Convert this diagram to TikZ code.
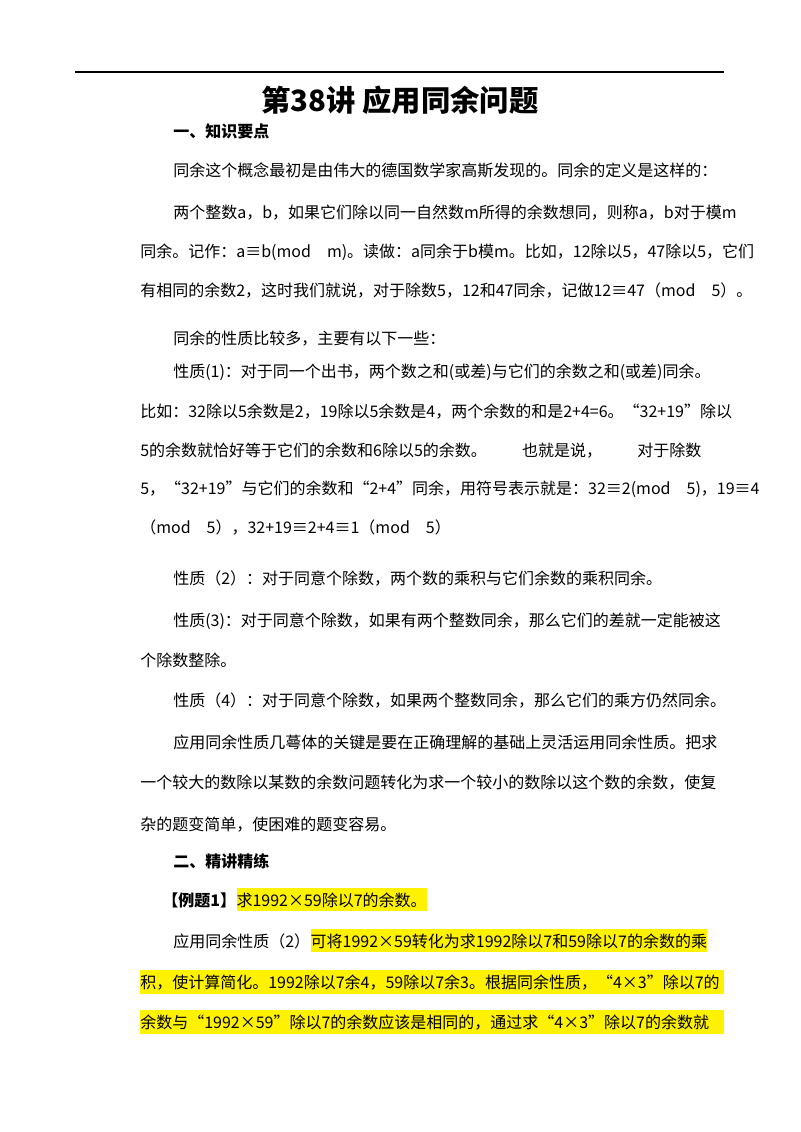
\documentclass[tikz,border=0pt]{standalone}
\usepackage{fontspec}
\setmainfont{Noto Sans CJK SC}
\begin{document}
\begin{tikzpicture}[x=0.75pt,y=-0.75pt,
  ln/.style={anchor=base west,inner sep=0pt,font=\fontsize{12pt}{14pt}\selectfont},
  hln/.style={ln,fill=yellow,inner ysep=3pt,inner xsep=0pt},
  hl/.style={fill=yellow,draw=none}]
\useasboundingbox (0,0) rectangle (800,1132);
\fill[white] (0,0) rectangle (800,1132);
\draw[line width=1pt] (75,72) -- (724,72);
\node[anchor=center,inner sep=0pt,font=\fontsize{22pt}{26pt}\selectfont\bfseries] (title) at (400,100) {第38讲 应用同余问题};
% highlights
\fill[hl] (140,970) rectangle (724,994);
\fill[hl] (140,1010) rectangle (724,1034);
\node[ln,font=\fontsize{12pt}{14pt}\selectfont\bfseries] (l1) at (173,137) {一、知识要点};
\node[ln] (l2) at (173,176) {同余这个概念最初是由伟大的德国数学家高斯发现的。同余的定义是这样的：};
\node[ln] (l3) at (173,218) {两个整数a，b，如果它们除以同一自然数m所得的余数想同，则称a，b对于模m};
\node[ln] (l4) at (140,257) {同余。记作：a≡b(mod　m)。读做：a同余于b模m。比如，12除以5，47除以5，它们};
\node[ln] (l5) at (140,296) {有相同的余数2，这时我们就说，对于除数5，12和47同余，记做12≡47（mod　5）。};
\node[ln] (l6) at (173,344) {同余的性质比较多，主要有以下一些：};
\node[ln] (l7) at (173,377) {性质(1)：对于同一个出书，两个数之和(或差)与它们的余数之和(或差)同余。};
\node[ln] (l8) at (140,417) {比如：32除以5余数是2，19除以5余数是4，两个余数的和是2+4=6。“32+19”除以};
\node[ln] (l9) at (140,456) {5的余数就恰好等于它们的余数和6除以5的余数。\hspace{2.2em}也就是说，\hspace{2.2em}对于除数};
\node[ln] (l10) at (140,494) {5，“32+19”与它们的余数和“2+4”同余，用符号表示就是：32≡2(mod　5)，19≡4};
\node[ln] (l11) at (140,533) {（mod　5），32+19≡2+4≡1（mod　5）};
\node[ln] (l12) at (173,584) {性质（2）：对于同意个除数，两个数的乘积与它们余数的乘积同余。};
\node[ln] (l13) at (173,626) {性质(3)：对于同意个除数，如果有两个整数同余，那么它们的差就一定能被这};
\node[ln] (l14) at (140,666) {个除数整除。};
\node[ln] (l15) at (173,706) {性质（4）：对于同意个除数，如果两个整数同余，那么它们的乘方仍然同余。};
\node[ln] (l16) at (173,748) {应用同余性质几蕚体的关键是要在正确理解的基础上灵活运用同余性质。把求};
\node[ln] (l17) at (140,788) {一个较大的数除以某数的余数问题转化为求一个较小的数除以这个数的余数，使复};
\node[ln] (l18) at (140,830) {杂的题变简单，使困难的题变容易。};
\node[ln,font=\fontsize{12pt}{14pt}\selectfont\bfseries] (l19) at (173,867) {二、精讲精练};
\node[ln,font=\fontsize{12pt}{14pt}\selectfont\bfseries] (l20) at (162,906) {【例题1】};
\node[hln] (l20b) at (l20.base east) {求1992×59除以7的余数。};
\node[ln] (l21) at (173,947) {应用同余性质（2）};
\node[hln] (l21b) at (l21.base east) {可将1992×59转化为求1992除以7和59除以7的余数的乘};
\node[ln] (l22) at (140,988) {积，使计算简化。1992除以7余4，59除以7余3。根据同余性质，“4×3”除以7的};
\node[ln] (l23) at (140,1028) {余数与“1992×59”除以7的余数应该是相同的，通过求“4×3”除以7的余数就};
\end{tikzpicture}
\end{document}
